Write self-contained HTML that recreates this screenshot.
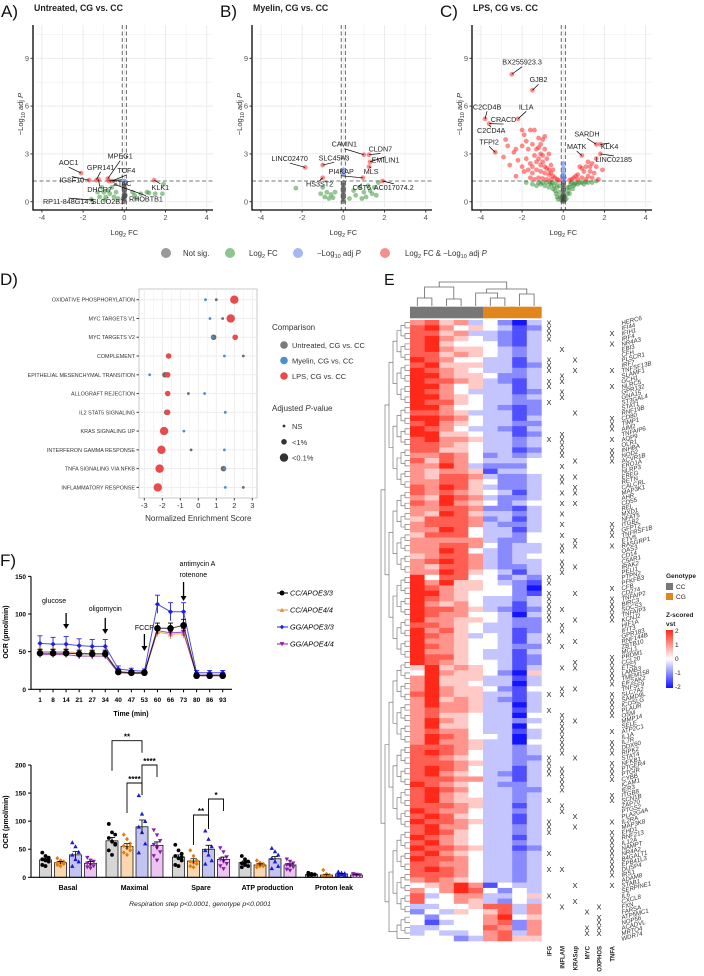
<!DOCTYPE html>
<html><head><meta charset="utf-8"><style>
html,body{margin:0;padding:0;background:#fff;}
svg{display:block;font-family:"Liberation Sans",sans-serif;}
</style></head><body>
<svg id="fig" width="704" height="976" viewBox="0 0 704 976" xmlns="http://www.w3.org/2000/svg">
<g id="panelA"></g>
<g id="panelB"></g>
<g id="panelC"></g>
<g id="volLegend"></g>
<g id="panelD"></g>
<g id="panelE"></g>
<g id="panelF1"></g>
<g id="panelF2"></g>
</svg>
<script>
// ---------- Volcano data ----------
const aRed=[[-2.1,1.8],[-1.7,1.35],[-1.35,1.35],[-1.25,1.4],[-0.8,1.45],[-0.75,1.3],[-0.6,1.3],[1.45,1.35]];
const aBlue=[[0,1.3]];
const aGreen=[[-1.6,0.15],[-1.3,0.6],[-1.1,0.9],[-1.0,0.6],[-0.9,0.3],[-0.8,0.7],[-0.7,0.5],[-0.6,0.9],[-0.5,0.3],[-0.4,0.6],[-0.3,0.2],[-1.2,0.3],[0.4,0.6],[0.5,0.4],[0.8,0.5],[1.1,0.6],[1.2,0.55],[1.5,0.5],[1.9,1.1],[1.85,0.5],[0.6,0.2],[-0.95,0.1]];
const aGrey=[[0,0],[0,0.15],[0,0.3],[0,0.45],[0,0.6],[0,0.75],[0,0.9],[0,1.05],[-0.05,0.2],[0.05,0.4]];
const aLab=[["AOC1",-2.7,2.3,-2.1,1.8],["GPR141",-1.15,2.0,-1.35,1.4],["IGSF10",-2.55,1.2,-1.7,1.35],["MPEG1",-0.2,2.7,-0.8,1.45],["TCF4",0.1,1.8,-0.6,1.3],["DHCR7",-1.2,0.6,-1.25,1.4],["STAC",-0.1,1.0,-0.75,1.3],["KLK1",1.75,0.75,1.45,1.35],["RHOBTB1",1.05,0.0,-0.5,1.1],["RP11-848G14.5",-2.7,-0.15,-1.5,0.1],["SLCO2B1",-0.8,-0.15,-0.8,0.3]];
const bRed=[[-1.85,2.15],[-1.0,2.3],[-1.0,1.5],[1.0,2.95],[1.25,2.95],[1.3,2.5],[1.25,2.2],[0.95,1.5],[1.9,1.3]];
const bBlue=[[0,2.0],[0,1.75]];
const bGreen=[[-2.3,0.85],[-1.1,0.5],[-1.0,0.9],[-0.9,0.3],[-0.8,0.6],[-0.7,0.2],[-0.6,0.45],[-0.5,0.25],[-0.4,0.6],[0.3,0.2],[0.6,0.4],[0.8,0.9],[1.0,0.6],[1.1,0.3],[1.2,1.0],[1.3,0.7],[1.4,0.5],[1.5,0.9],[1.6,0.4],[1.7,1.2],[0.9,0.2],[0.5,0.7]];
const bGrey=[[0,0],[0,0.15],[0,0.3],[0,0.45],[0,0.6],[0,0.75],[0,0.9],[0,1.05],[0,1.2]];
const bLab=[["LINC02470",-2.6,2.55,-1.85,2.15],["SLC45A3",-0.45,2.6,-1.0,2.3],["CAVIN1",0.05,3.45,1.0,2.95],["CLDN7",1.8,3.15,1.25,2.95],["EMILIN1",2.05,2.45,1.3,2.5],["PI4KAP",-0.1,1.75,0.95,1.5],["MLS",1.35,1.75,1.25,2.2],["HS3ST2",-1.15,0.95,-1.0,1.5],["CST6",0.9,0.75,0.7,0.9],["AC017074.2",2.45,0.75,1.9,1.3]];
const cRed=[[-3.8,5.2],[-3.6,4.9],[-3.3,3.1],[-2.5,8],[-1.5,7],[-2.2,5.2],[-2.8,3.9],[-2.7,3.5],[-2.3,3.3],[-2.9,2.8],[-2.6,2.3],[-2.4,3.1],[-2.0,4.5],[-1.9,4.2],[-1.6,4.5],[-1.4,4.5],[-1.2,4.0],[-1.0,3.9],[-0.9,4.1],[-2.0,3.5],[-1.8,3.8],[-1.7,3.3],[-1.5,3.6],[-1.3,3.3],[-1.1,3.6],[-0.9,3.3],[-0.7,3.0],[-2.2,2.6],[-2.0,2.2],[-1.8,2.7],[-1.6,2.4],[-1.4,2.9],[-1.2,2.7],[-1.0,2.5],[-0.8,2.7],[-0.6,2.3],[-0.5,2.0],[-1.9,1.9],[-1.7,2.0],[-1.5,1.8],[-1.3,2.0],[-1.1,1.9],[-0.9,1.8],[-0.7,1.7],[-0.5,1.6],[-0.4,1.5],[-1.6,1.5],[-1.2,1.5],[-1.0,1.45],[-0.8,1.4],[-0.6,1.4],[-0.3,1.4],[-2.3,1.6],[-1.4,1.4],[-0.2,1.35],[-1.1,3.0],[-1.3,2.5],[-0.9,2.2],[-0.7,2.0],[-1.5,2.2],[-1.1,2.3],[-0.8,2.1],[-1.2,3.4],[-1.0,2.9],[-0.6,1.8],[1.6,3.6],[1.8,3.6],[1.8,3.0],[0.9,2.9],[1.9,2.0],[1.6,2.2],[1.4,2.4],[1.2,2.5],[1.1,2.2],[1.0,1.9],[0.8,2.2],[0.7,1.7],[0.6,1.6],[0.5,1.5],[0.4,1.4],[1.3,1.9],[1.5,1.8],[1.7,1.4],[1.2,1.6],[0.9,1.5],[1.1,1.4],[0.7,1.4],[1.6,2.7],[1.4,1.5],[0.3,1.35],[0.9,2.1],[1.3,2.2]];
const cBlue=[[0,2.4],[0,2.1],[0,1.8],[-0.05,1.6],[0.05,1.5],[0,1.4]];
const cGreen=[[-1.8,1.2],[-1.5,1.1],[-1.3,1.0],[-1.1,1.1],[-0.9,1.0],[-0.7,0.9],[-0.6,1.1],[-0.5,0.8],[-0.4,0.7],[-0.35,0.5],[-0.3,0.3],[-0.25,0.15],[-0.3,0.9],[-0.45,1.0],[-0.55,1.2],[-0.8,1.2],[-1.0,1.2],[-1.2,1.2],[-0.2,0.6],[-0.15,0.3],[-0.2,1.0],[0.15,0.2],[0.2,0.5],[0.25,0.7],[0.3,0.9],[0.35,1.1],[0.4,1.2],[0.5,1.0],[0.6,1.2],[0.7,1.1],[0.8,1.2],[0.9,1.2],[1.0,1.1],[1.2,1.2],[1.4,1.2],[1.6,1.3],[0.45,0.8],[0.3,0.5],[0.2,0.9],[0.55,1.1],[1.1,1.25],[-0.65,1.2],[-0.35,1.2]];
const cGrey=[[0,0],[0,0.1],[0,0.2],[0,0.3],[0,0.45],[0,0.6],[0,0.75],[0,0.9],[0,1.05],[0,1.2],[-0.08,0.1],[0.08,0.1],[-0.06,0.3],[0.06,0.3]];
const cLab=[["BX255923.3",-2.0,8.6,-2.5,8],["GJB2",-1.2,7.5,-1.5,7],["C2CD4B",-3.7,5.8,-3.8,5.2],["IL1A",-1.8,5.8,-2.2,5.2],["CRACD",-2.9,5.0,-3.6,4.9],["C2CD4A",-3.5,4.3,-3.6,4.8],["TFPI2",-3.6,3.6,-3.3,3.1],["SARDH",1.15,4.1,1.6,3.6],["KLK4",2.25,3.3,1.8,3.6],["MATK",0.65,3.3,0.9,2.9],["LINC02185",2.45,2.5,1.8,3.0]];

// ---------- Panel D data ----------
const dTerms=["OXIDATIVE PHOSPHORYLATION","MYC TARGETS V1","MYC TARGETS V2","COMPLEMENT","EPITHELIAL MESENCHYMAL TRANSITION","ALLOGRAFT REJECTION","IL2 STAT5 SIGNALING","KRAS SIGNALING UP","INTERFERON GAMMA RESPONSE","TNFA SIGNALING VIA NFKB","INFLAMMATORY RESPONSE"];
const dUntreated=[1.0,1.35,0.85,2.5,-1.85,-0.55,-1.75,-1.85,-0.4,1.4,2.5];
const dUntreatedSig=[0,0,1,0,1,0,1,1,0,1,0];
const dMyelin=[0.4,0.65,0.8,1.45,-2.7,0.35,1.5,-0.8,1.45,1.45,1.5];
const dMyelinSig=[0,0,0,0,0,0,0,0,0,0,0];
const dLPS=[2.0,1.8,2.05,-1.65,-1.7,-1.7,-1.7,-1.9,-2.05,-2.15,-2.25];
const dLPSSig=[2,2,1,1,1,1,1,2,2,2,2];

// ---------- Panel E data ----------
const heatRows=["675634203","786454312","775633213","786543213","785444213",
"786554323","775654323","876443313","785553312","876543323","886554223","877653213","886453313","876433312","886543323","877543322","886443212","776533312","887643313","786543322","876433213","885543312","786653323","776543323","775543312",
"667642323","757643334","668632224","656651334","657763223","667754223","768753223","767654313","658763223","768654234","667762213","658753323","577762313","677763223","668743313",
"577743324","666663224","667764233","668743233","567763234","678763233","657763223","668754313","847744232","868554321","876554420","886544421",
"876543323","865643313","877653212","876644303","866554322","776543322","867543312","876534313","866544313","876544322","866543313","877543312","876544312",
"585654313","486554205","685553313","685543303","686554214","786553313","685653213","686653303","676653313","675543304","686543323","685543304","676643313","687644303","686653304",
"777653323","787643323","776543322","777653323","787643313","786543213","777663313","876543223","787643322","786543323","786553323","777653313","876643323","787543313","877653313","786643323","787543323","876543313","786543323","877653312","786543323","877643323","776643323","787643323","777643323","676543323",
"456861433","646874243","734663345","744653243",
"334457736","243545736","424446845","413446726","334447626","343346736","444236755"];
const genes=["HERC6","IFI44","IFIH1","IRF4","NR4A3","EBI3","CFH","PLSCR1","IRF7","TNFSF13B","SLAMF1","GCH1","NLRC5","GPR132","GNA15","ST3GAL4","STAT1","RNF19B","CD80","TIMP1","AIM2","TNFAIP6","AQP9","OLR1","INHBA","NOD2","ACVR1B","ERO1A","NLRP3","EREG","RETN","CALCRL","MAP3K1","AHR","CD55","REL","MXD1","NFAT5","ITGB2","GFPT2","TNFRSF1B","ETV5","RASGRP1","OAS3","CD14","C5AR1","IRAK2","PELI1","PTPN2","PFKFB3","CFB","CD274","TNFAIP2","BIRC3","SOCS3","TNFAIP3","KCNJ2","HIF1A","IFIT3","GPR183","RNF144B","ZBTB10","MCL1","PRDM1","CCL20","ETS2","LAMB3","TMEM158","EIF2AK2","TNFSF9","SLC7A2","SAMD9L","ICOSLG","PLAUR","OSM","MMP14","SELE","ATP2C1","IL1A","IL7R","DDX60","RIPK2","STAT4","NFKB1","PTGER4","PTGIR","CYBB","ICAM1","IER3","ITGB8","SCN1B","ZAP70","PTGS2","PLA2G4A","IL2RA","MAP3K8","EHD1","RNF213","IL12A","NAMPT","NR4A2","B4GALT1","EPB41L3","DUSP4","IRS1","ADAM8","STAB1","SERPINE1","IL6","CXCL8","FXN","FARSA","ATP5MC1","NOP56","ACADVL","MRTO4","WDR74"];
const setNames=["IFG","INFLAM","KRASup","MYC","OXPHOS","TNFA"];
const setIFG=[0,1,2,3,7,8,9,11,12,15,22,48,49,51,52,53,54,55,56,59,60,70,73,82,83,84,85,90,94,95,96,100,103,108];
const setINFLAM=[5,10,11,13,14,21,22,23,24,25,27,29,30,32,34,36,38,40,42,43,45,46,47,54,57,58,61,65,69,70,74,75,76,77,78,79,80,81,84,85,86,87,88,91,92,103,110];
const setKRAS=[7,9,17,26,29,31,32,34,41,42,46,51,56,60,64,65,69,75,82,93,95,106,109];
const setMYC=[111,114,115];
const setOXPHOS=[110,112,113,114,115];
const setTNFA=[2,4,9,12,18,19,20,22,24,25,26,38,39,40,42,50,52,53,54,55,56,63,64,65,66,67,68,70,71,72,73,74,77,79,80,81,83,84,85,86,89,90,94,96,97,98,99,100,101,102,103,104,106];
const genotypeCols=["CC","CC","CC","CC","CC","CG","CG","CG","CG"];

// ---------- Panel F data ----------
const timeTicks=[1,8,14,21,27,34,40,47,53,60,66,73,80,86,93];
const seriesNames=["CC/APOE3/3","CC/APOE4/4","GG/APOE3/3","GG/APOE4/4"];
const ocrCC33=[48,48,48,47,47,47,23,22,22,81,81,85,18,18,18];
const ocrCC44=[50,50,50,48,47,47,24,22,22,76,73,74,19,19,19];
const ocrGG33=[61,60,60,58,57,57,27,25,24,113,103,103,22,22,22];
const ocrGG44=[46,46,46,44,44,44,22,21,21,78,75,76,19,19,19];
const errCC33=[5,5,5,5,5,5,3,3,3,7,7,8,3,3,3];
const errCC44=[4,4,4,4,4,4,3,2,2,6,6,6,2,2,2];
const errGG33=[10,9,10,9,9,9,4,3,3,12,12,12,3,3,3];
const errGG44=[4,4,4,4,4,4,2,2,2,5,5,5,2,2,2];
const steps=["Basal","Maximal","Spare","ATP production","Proton leak"];
const barCC33=[31,65,36,26,5];
const barCC44=[26,55,29,22,4];
const barGG33=[40,90,50,33,6];
const barGG44=[25,57,32,22,4];
const semCC33=[3,6,4,3,1],semCC44=[2,5,4,2,1],semGG33=[6,12,7,4,1],semGG44=[3,6,4,2,1];
const ptsCC33=[[44,38,35,32,30,28,22,20,34],[95,80,76,70,64,58,48,40,60],[58,48,42,38,34,30,22,20,36],[38,32,28,25,22,20,18,26],[8,6,5,4,4,5,6,4]];
const ptsCC44=[[34,30,28,26,25,24,22,20,27],[76,68,60,56,52,48,44,40,55],[48,38,30,28,26,24,20,18,29],[30,26,24,22,20,20,18,22],[13,6,4,3,2,2,3,4]];
const ptsGG33=[[62,55,45,40,32,28,20],[146,113,100,90,80,60,44],[83,68,55,48,40,30,24],[52,46,40,34,28,20,16],[10,8,7,6,5,4,4]];
const ptsGG44=[[35,30,28,25,22,20,18,16],[84,75,65,58,52,45,38,30],[52,45,36,32,28,24,20,15],[32,28,25,22,20,18,14,12],[6,5,4,4,3,3,4]];

// ---------- helpers ----------
const NS="http://www.w3.org/2000/svg";
function mk(parent,tag,attrs,txt){const e=document.createElementNS(NS,tag);for(const k in attrs)e.setAttribute(k,attrs[k]);if(txt!==undefined)e.textContent=txt;parent.appendChild(e);return e;}

// ---------- Volcano ----------
function volcano(gid,off,letter,title,red,green,blue,grey,labels){
  const g=document.getElementById(gid);
  const X=fc=>124.3+off+fc*20.6, Y=p=>201.7-p*15.93;
  const L=33+off,R=213+off,T=25,B=210;
  for(let v=-4;v<=4;v+=1){const l=mk(g,'line',{x1:X(v),x2:X(v),y1:T,y2:B-3,stroke:'#ebebeb','stroke-width':v%2===0?1:0.5});}
  for(let v=0;v<=10.5;v+=1.5){const l=mk(g,'line',{x1:L+3,x2:R,y1:Y(v),y2:Y(v),stroke:'#ebebeb','stroke-width':v%3===0?1:0.5});}
  const hl=mk(g,'line',{x1:L,x2:R,y1:Y(1.3),y2:Y(1.3),stroke:'#777','stroke-dasharray':'4,2.5','stroke-width':0.9});
  
  [-0.1,0.1].forEach(v=>{const l=mk(g,'line',{x1:X(v),x2:X(v),y1:T,y2:B,stroke:'#555','stroke-dasharray':'4,2.5','stroke-width':0.9});});
  const groups=[[grey,'#404040',0.55,'point-not-sig'],[green,'#2e8b2e',0.5,'point-fc'],[blue,'#4a6ee0',0.55,'point-p'],[red,'#ff1a1a',0.5,'point-fc-and-p']];
  groups.forEach(([arr,col,op,nm])=>arr.forEach(([fc,p])=>{const c=mk(g,'circle',{cx:X(fc),cy:Y(p),r:2.4,fill:col,'fill-opacity':op});}));
  labels.forEach(([t,tx,ty,px,py])=>{
    const ln=mk(g,'line',{x1:X(tx),y1:Y(ty)+(ty>py?2:-6),x2:X(px),y2:Y(py),stroke:'#000','stroke-width':0.7});
    const tt=mk(g,'text',{x:X(tx),y:Y(ty),'font-size':7.2,'text-anchor':'middle',fill:'#222'},t);
  });
  const ax=mk(g,'path',{d:`M${L},${T} V${B} H${R}`,stroke:'#000','stroke-width':1.3,fill:'none'});
  [-4,-2,0,2,4].forEach(v=>{mk(g,'line',{x1:X(v),x2:X(v),y1:B,y2:B+2.5,stroke:'#333'});const t=mk(g,'text',{x:X(v),y:B+10,'font-size':7.5,'text-anchor':'middle',fill:'#555'},String(v));});
  [0,3,6,9].forEach(v=>{mk(g,'line',{x1:L-2.5,x2:L,y1:Y(v),y2:Y(v),stroke:'#333'});const t=mk(g,'text',{x:L-4,y:Y(v)+2.6,'font-size':7.5,'text-anchor':'end',fill:'#555'},String(v));});
  const xt=mk(g,'text',{x:X(0),y:235,'font-size':7.5,'text-anchor':'middle',fill:'#333'});xt.innerHTML='Log<tspan font-size="5.5" dy="2">2</tspan><tspan dy="-2"> FC</tspan>';
  const yt=mk(g,'text',{transform:`translate(${L-10},${Y(5.5)}) rotate(-90)`,'font-size':7.5,'text-anchor':'middle',fill:'#333'});yt.innerHTML='−Log<tspan font-size="5.5" dy="2">10</tspan><tspan dy="-2"> adj </tspan><tspan font-style="italic">P</tspan>';
  const tl=mk(g,'text',{x:L+1,y:11,'font-size':8.8,'font-weight':'bold',fill:'#222'},title);
  const lt=mk(g,'text',{x:L-32,y:17,'font-size':17,fill:'#111'},letter);
}
volcano('panelA',0,'A)','Untreated, CG vs. CC',aRed,aGreen,aBlue,aGrey,aLab);
volcano('panelB',219,'B)','Myelin, CG vs. CC',bRed,bGreen,bBlue,bGrey,bLab);
volcano('panelC',439,'C)','LPS, CG vs. CC',cRed,cGreen,cBlue,cGrey,cLab);

// volcano legend
(function(){const g=document.getElementById('volLegend');
 const items=[[166,183,'#9a9a9a','Not sig.'],[230,249,'#8fc48f','Log<tspan font-size="5.5" dy="2">2</tspan><tspan dy="-2"> FC</tspan>'],[298,317,'#a6b8f2','−Log<tspan font-size="5.5" dy="2">10</tspan><tspan dy="-2"> adj </tspan><tspan font-style="italic">P</tspan>'],[385,405,'#f59090','Log<tspan font-size="5.5" dy="2">2</tspan><tspan dy="-2"> FC &amp; −Log</tspan><tspan font-size="5.5" dy="2">10</tspan><tspan dy="-2"> adj </tspan><tspan font-style="italic">P</tspan>']];
 items.forEach(([cx,tx,col,h])=>{const c=mk(g,'circle',{cx:cx,cy:253,r:5,fill:col});
  const t=mk(g,'text',{x:tx,y:256,'font-size':7.8,fill:'#333'});t.innerHTML=h;});
})();

// ---------- Panel D ----------
(function(){const g=document.getElementById('panelD');
 const X=v=>198.3+v*18, Y=i=>299.7+i*18.77;
 const L=139,R=257,T=289,B=498;
 mk(g,'rect',{x:L,y:T,width:R-L,height:B-T,fill:'#fff',stroke:'#bbb','stroke-width':0.8});
 for(let v=-3;v<=3;v+=0.5){const l=mk(g,'line',{x1:X(v),x2:X(v),y1:T,y2:B,stroke:'#ececec','stroke-width':v%1===0?0.9:0.5});}
 dTerms.forEach((t,i)=>{mk(g,'line',{x1:L,x2:R,y1:Y(i),y2:Y(i),stroke:'#ececec','stroke-width':0.9});
   mk(g,'line',{x1:L-2.5,x2:L,y1:Y(i),y2:Y(i),stroke:'#444'});
   const tx=mk(g,'text',{x:L-4,y:Y(i)+2,'font-size':5.4,'text-anchor':'end',fill:'#333'},t);});
 const rs=[1.4,2.8,4.2];
 const ser=[[dUntreated,dUntreatedSig,'#6b6b6b'],[dMyelin,dMyelinSig,'#4a90d0'],[dLPS,dLPSSig,'#e84b4b']];
 ser.forEach(([vals,sig,col])=>vals.forEach((v,i)=>{const c=mk(g,'circle',{cx:X(v),cy:Y(i),r:rs[sig[i]],fill:col});}));
 [-3,-2,-1,0,1,2,3].forEach(v=>{mk(g,'line',{x1:X(v),x2:X(v),y1:B,y2:B+2.5,stroke:'#444'});const t=mk(g,'text',{x:X(v),y:B+10,'font-size':7.5,'text-anchor':'middle',fill:'#333'},String(v));});
 const xt=mk(g,'text',{x:X(0),y:521,'font-size':8,'text-anchor':'middle',fill:'#333'},'Normalized Enrichment Score');
 const lt=mk(g,'text',{x:0,y:285,'font-size':17,fill:'#111'},'D)');
 const h1=mk(g,'text',{x:272,y:330,'font-size':8,fill:'#333'},'Comparison');
 [['Untreated, CG vs. CC','#7a7a7a'],['Myelin, CG vs. CC','#4a90d0'],['LPS, CG vs. CC','#e84b4b']].forEach(([t,c],i)=>{mk(g,'circle',{cx:284,cy:345+i*15.5,r:3.8,fill:c});const tt=mk(g,'text',{x:292,y:348+i*15.5,'font-size':7.5,fill:'#333'},t);});
 const h2=mk(g,'text',{x:272,y:411,'font-size':8,fill:'#333'});h2.innerHTML='Adjusted <tspan font-style="italic">P</tspan>-value';
 [['NS',1.4],['<1%',2.8],['<0.1%',4.2]].forEach(([t,r],i)=>{mk(g,'circle',{cx:284,cy:426+i*15.8,r:r,fill:'#333'});const tt=mk(g,'text',{x:292,y:429+i*15.8,'font-size':7.5,fill:'#333'},t);});
})();

// ---------- Panel E ----------
(function(){const g=document.getElementById('panelE');
 const x0=410,cw=14.6,y0=320,rh=621/heatRows.length;
 function col(v){ // v in -2..2
   const t=Math.max(-1,Math.min(1,v/2));
   if(t>=0){return `rgb(255,${Math.round(255-t*215)},${Math.round(255-t*230)})`;}
   const s=-t;return `rgb(${Math.round(255-s*235)},${Math.round(255-s*235)},255)`;}
 heatRows.forEach((row,i)=>{for(let j=0;j<9;j++){const v=(parseInt(row[j])-4)/2;
   const r=mk(g,'rect',{x:x0+j*cw,y:y0+i*rh,width:cw+0.3,height:rh+0.3,fill:col(v)});}});
 genotypeCols.forEach((gt,j)=>{const r=mk(g,'rect',{x:x0+j*cw,y:306.7,width:cw+0.3,height:11.6,fill:gt==='CC'?'#777777':'#e0861b'});});
 const cx=j=>x0+cw/2+j*cw;
 const dend=[[cx(0),cx(1),298],[cx(2),cx(3),299],[cx(5),cx(6),298],[cx(7),cx(8),294]];
 let d='';
 dend.forEach(([a,b,y])=>{d+=`M${a},306 V${y} H${b} V306 `;});
 const l1=(cx(0)+cx(1))/2,l2=(cx(2)+cx(3))/2,r1=(cx(5)+cx(6))/2,r2=(cx(7)+cx(8))/2;
 d+=`M${l1},298 V287 H${l2} V299 `;
 d+=`M${cx(4)},306 V293 H${r1} V298 `;
 const r3=(cx(4)+r1)/2;
 d+=`M${r3},293 V289 H${r2} V294 `;
 const lm=(l1+l2)/2,rm=(r3+r2)/2;
 d+=`M${lm},287 V282 H${rm} V289`;
 const cd=mk(g,'path',{d:d,stroke:'#666','stroke-width':0.8,fill:'none'});
 // row dendrogram (adjacent pairing)
 let rd='';let nodes=heatRows.map((_,i)=>({y:y0+(i+0.5)*rh,x:x0}));let lvl=0;
 const depth=[405,401,397,393,389,385,381,378];
 while(nodes.length>1&&lvl<8){const nx=[];const xx=depth[lvl];
   for(let k=0;k<nodes.length;k+=2){if(k+1<nodes.length){const a=nodes[k],b=nodes[k+1];rd+=`M${a.x},${a.y} H${xx} V${b.y} H${b.x} `;nx.push({x:xx,y:(a.y+b.y)/2});}else nx.push(nodes[k]);}
   nodes=nx;lvl++;}
 const rdp=mk(g,'path',{d:rd,stroke:'#666','stroke-width':0.6,fill:'none'});
 const setX=[549,562,575,587,599,612];
 [setIFG,setINFLAM,setKRAS,setMYC,setOXPHOS,setTNFA].forEach((arr,k)=>{arr.forEach(i=>{const t=mk(g,'text',{x:setX[k],y:y0+(i+0.5)*rh+2.8,'font-size':7.5,'text-anchor':'middle',fill:'#222'},'X');});
  const lb=mk(g,'text',{transform:`translate(${setX[k]+2.5},946) rotate(-90)`,'font-size':6,'font-weight':'bold','text-anchor':'end',fill:'#222'},setNames[k]);});
 genes.slice(0,heatRows.length).forEach((gn,i)=>{const t=mk(g,'text',{transform:`translate(622,${y0+(i+0.5)*rh+2.5}) rotate(-15)`,'font-size':6.2,'font-style':'italic',fill:'#333'},gn);});
 const lt=mk(g,'text',{x:384,y:285,'font-size':16,fill:'#111'},'E');
 const gt=mk(g,'text',{x:666,y:578,'font-size':6.5,'font-weight':'bold',fill:'#222'},'Genotype');
 mk(g,'rect',{x:666,y:583,width:7,height:7,fill:'#777'});mk(g,'text',{x:676,y:589,'font-size':6.5,fill:'#222'},'CC');
 mk(g,'rect',{x:666,y:593,width:7,height:7,fill:'#e0861b'});mk(g,'text',{x:676,y:599,'font-size':6.5,fill:'#222'},'CG');
 const zt=mk(g,'text',{x:666,y:617,'font-size':6.5,'font-weight':'bold',fill:'#222'},'Z-scored');
 mk(g,'text',{x:666,y:626,'font-size':6.5,'font-weight':'bold',fill:'#222'},'vst');
 const defs=mk(g,'defs',{});const lg=mk(defs,'linearGradient',{id:'zg',x1:0,y1:0,x2:0,y2:1});
 [[0,col(2)],[0.25,col(1)],[0.5,col(0)],[0.75,col(-1)],[1,col(-2)]].forEach(([o,c])=>mk(lg,'stop',{offset:o,'stop-color':c}));
 const cb=mk(g,'rect',{x:666,y:630,width:7,height:58,fill:'url(#zg)'});
 ['2','1','0','-1','-2'].forEach((t,i)=>mk(g,'text',{x:675,y:633+i*14,'font-size':6.5,fill:'#222'},t));
})();

// ---------- Panel F top ----------
(function(){const g=document.getElementById('panelF1');
 const X=i=>40+i*13.05, Y=v=>689.3-v*0.753;
 const ax=mk(g,'path',{d:`M31,${Y(150)} V${Y(0)} H232`,stroke:'#000','stroke-width':1.1,fill:'none'});
 [0,50,100,150].forEach(v=>{mk(g,'line',{x1:28,x2:31,y1:Y(v),y2:Y(v),stroke:'#000'});const t=mk(g,'text',{x:26,y:Y(v)+2.5,'font-size':6.5,'font-weight':'bold','text-anchor':'end'},String(v));});
 timeTicks.forEach((tv,i)=>{mk(g,'line',{x1:X(i),x2:X(i),y1:Y(0),y2:Y(0)+3,stroke:'#000'});const t=mk(g,'text',{x:X(i),y:702,'font-size':6.5,'font-weight':'bold','text-anchor':'middle'},String(tv));});
 const xt=mk(g,'text',{x:131,y:716,'font-size':7,'font-weight':'bold','text-anchor':'middle'},'Time (min)');
 const yt=mk(g,'text',{transform:`translate(8,632) rotate(-90)`,'font-size':7,'font-weight':'bold','text-anchor':'middle'},'OCR (pmol/min)');
 const ser=[[ocrCC44,errCC44,'#e69138','tri'],[ocrGG44,errGG44,'#8a1fa8','dtri'],[ocrGG33,errGG33,'#2020e0','dia'],[ocrCC33,errCC33,'#000','circ']];
 function marker(gg,type,x,y,c,s){if(type==='circ')return mk(gg,'circle',{cx:x,cy:y,r:s,fill:c});
   if(type==='tri')return mk(gg,'path',{d:`M${x},${y-s} L${x+s},${y+s*0.8} L${x-s},${y+s*0.8}Z`,fill:c});
   if(type==='dtri')return mk(gg,'path',{d:`M${x},${y+s} L${x+s},${y-s*0.8} L${x-s},${y-s*0.8}Z`,fill:c});
   return mk(gg,'path',{d:`M${x},${y-s} L${x+s},${y} L${x},${y+s} L${x-s},${y}Z`,fill:c});}
 ser.forEach(([vals,err,c,m])=>{let d='';vals.forEach((v,i)=>{d+=(i?'L':'M')+X(i)+','+Y(v);
     const e=mk(g,'path',{d:`M${X(i)},${Y(v-err[i])} V${Y(v+err[i])} M${X(i)-2.5},${Y(v+err[i])} H${X(i)+2.5}`,stroke:c,'stroke-width':0.9,fill:'none'});});
   const p=mk(g,'path',{d:d,stroke:c,'stroke-width':1,fill:'none','stroke-opacity':0.8});
   vals.forEach((v,i)=>{const mm=marker(g,m,X(i),Y(v),c,m==='circ'?3.3:2.6);});});
 const arrows=[[2,'glucose',603,613,629],[5,'oligomycin',611,618,634],[8,'FCCP',630,634,651]];
 arrows.forEach(([i,t,ty,a1,a2])=>{const tx=mk(g,'text',{x:i===2?X(i)-12:X(i),y:ty,'font-size':7,'text-anchor':i===2?'middle':'middle'},t);
   mk(g,'line',{x1:X(i),x2:X(i),y1:a1,y2:a2-4,stroke:'#000','stroke-width':1.3});mk(g,'path',{d:`M${X(i)-3},${a2-5} L${X(i)+3},${a2-5} L${X(i)},${a2}Z`,fill:'#000'});});
 const ai=11;mk(g,'text',{x:X(ai)-4,y:566,'font-size':7},'antimycin A');mk(g,'text',{x:X(ai)-4,y:577,'font-size':7},'rotenone');
 mk(g,'line',{x1:X(ai),x2:X(ai),y1:582,y2:596,stroke:'#000','stroke-width':1.3});mk(g,'path',{d:`M${X(ai)-3},${596} L${X(ai)+3},596 L${X(ai)},601Z`,fill:'#000'});
 const lg=[['CC/APOE3/3','#000','circ'],['CC/APOE4/4','#e69138','tri'],['GG/APOE3/3','#2020e0','dia'],['GG/APOE4/4','#8a1fa8','dtri']];
 lg.forEach(([t,c,m],i)=>{const y=593+i*17;mk(g,'line',{x1:277,x2:288,y1:y,y2:y,stroke:c});marker(g,m,282,y,c,m==='circ'?2.5:2.3);
   const tt=mk(g,'text',{x:290,y:y+2.5,'font-size':7.3,'font-style':'italic'},t);});
 const lt=mk(g,'text',{x:0,y:566,'font-size':17,fill:'#111'},'F)');
})();

// ---------- Panel F bottom ----------
(function(){const g=document.getElementById('panelF2');
 const Y=v=>877.3-v*0.5615; const gx=k=>68+k*66.5; const bx=(k,j)=>gx(k)-22.5+j*15;
 [0,50,100,150,200].forEach(v=>{mk(g,'line',{x1:28,x2:31,y1:Y(v),y2:Y(v),stroke:'#000'});const t=mk(g,'text',{x:26,y:Y(v)+2.5,'font-size':6.5,'font-weight':'bold','text-anchor':'end'},String(v));});
 const yt=mk(g,'text',{transform:`translate(8,822) rotate(-90)`,'font-size':7,'font-weight':'bold','text-anchor':'middle'},'OCR (pmol/min)');
 const ser=[[barCC33,semCC33,ptsCC33,'#d6d6d6','#000','circ'],[barCC44,semCC44,ptsCC44,'#fbd7b0','#e07b10','dia'],[barGG33,semGG33,ptsGG33,'#c4c4f4','#1a1ad0','tri'],[barGG44,semGG44,ptsGG44,'#ecc4f2','#8a1fa8','dtri']];
 ser.forEach(([vals,sem,pts,fill,mc,m],j)=>vals.forEach((v,k)=>{const x=bx(k,j);
   const r=mk(g,'rect',{x:x-6,y:Y(v),width:12,height:Y(0)-Y(v),fill:fill,stroke:'#000','stroke-width':0.7});
   pts[k].forEach((p,q)=>{const px=x+((q%3)-1)*3.2;const yy=Y(p);let e;
     if(m==='circ')e=mk(g,'circle',{cx:px,cy:yy,r:1.9,fill:mc});
     else if(m==='tri')e=mk(g,'path',{d:`M${px},${yy-2.2} L${px+2.2},${yy+1.8} L${px-2.2},${yy+1.8}Z`,fill:mc});
     else if(m==='dtri')e=mk(g,'path',{d:`M${px},${yy+2.2} L${px+2.2},${yy-1.8} L${px-2.2},${yy-1.8}Z`,fill:mc});
     else e=mk(g,'path',{d:`M${px},${yy-2.2} L${px+2},${yy} L${px},${yy+2.2} L${px-2},${yy}Z`,fill:mc});
     });
   mk(g,'path',{d:`M${x},${Y(v-sem[k])} V${Y(v+sem[k])} M${x-3},${Y(v+sem[k])} H${x+3}`,stroke:'#000','stroke-width':0.8,fill:'none'});
 }));
 const ax=mk(g,'path',{d:`M31,${Y(200)} V${Y(0)} H352`,stroke:'#000','stroke-width':1.1,fill:'none'});
 steps.forEach((s,k)=>{const t=mk(g,'text',{x:gx(k),y:890,'font-size':7,'font-weight':'bold','text-anchor':'middle'},s);});
 const brk=[[1,0,2,740.7,'**'],[1,2,3,765,'****'],[1,1,2,783,'****'],[2,1,2,815,'**'],[2,2,3,799,'*']];
 brk.forEach(([k,a,b,y,s])=>{const xa=bx(k,a),xb=bx(k,b);const va=[barCC33,barCC44,barGG33,barGG44][a][k],vb=[barCC33,barCC44,barGG33,barGG44][b][k];
   const p=mk(g,'path',{d:`M${xa},${Math.min(Y(va)-8,y+30)} V${y} H${xb} V${Math.min(Y(vb)-18,y+12)}`,stroke:'#000','stroke-width':0.9,fill:'none'});
   const t=mk(g,'text',{x:(xa+xb)/2,y:y-1,'font-size':8,'font-weight':'bold','text-anchor':'middle'},s);});
 const cap=mk(g,'text',{x:200,y:906,'font-size':6.8,'font-style':'italic','text-anchor':'middle',fill:'#222'},'Respiration step p<0.0001, genotype p<0.0001');
})();
</script>
</body></html>
